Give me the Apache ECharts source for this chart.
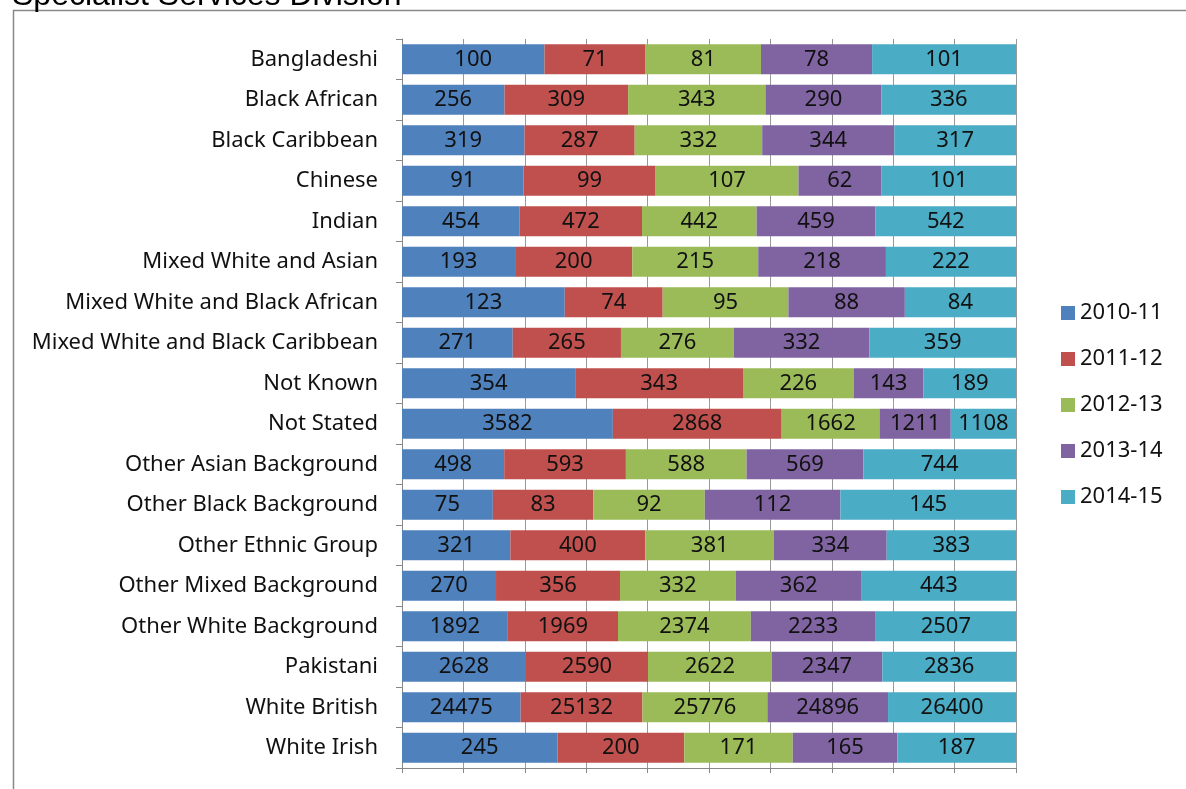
<!DOCTYPE html>
<html><head><meta charset="utf-8">
<script src="https://cdn.jsdelivr.net/npm/echarts@6/dist/echarts.min.js"></script>
<style>html,body{margin:0;padding:0;background:#fff}#c{width:1186px;height:789px}</style>
</head><body><div id="c"></div>
<script>
const categories = ["Bangladeshi","Black African","Black Caribbean","Chinese","Indian","Mixed White and Asian","Mixed White and Black African","Mixed White and Black Caribbean","Not Known","Not Stated","Other Asian Background","Other Black Background","Other Ethnic Group","Other Mixed Background","Other White Background","Pakistani","White British","White Irish"];
const seriesNames = ["2010-11","2011-12","2012-13","2013-14","2014-15"];
const y2010 = [100,256,319,91,454,193,123,271,354,3582,498,75,321,270,1892,2628,24475,245];
const y2011 = [71,309,287,99,472,200,74,265,343,2868,593,83,400,356,1969,2590,25132,200];
const y2012 = [81,343,332,107,442,215,95,276,226,1662,588,92,381,332,2374,2622,25776,171];
const y2013 = [78,290,344,62,459,218,88,332,143,1211,569,112,334,362,2233,2347,24896,165];
const y2014 = [101,336,317,101,542,222,84,359,189,1108,744,145,383,443,2507,2836,26400,187];
const raw = [y2010,y2011,y2012,y2013,y2014];
const colors = ["#4F81BD","#C0504D","#9BBB59","#8064A2","#4BACC6"];
const totals = categories.map((_,i)=>raw.reduce((s,a)=>s+a[i],0));
const FONT = "Noto Sans";
const chart = echarts.init(document.getElementById('c'));
chart.setOption({
  animation:false,
  textStyle:{fontFamily:FONT},
  graphic:[
    {type:'rect',shape:{x:13.5,y:10.5,width:1200,height:900},style:{fill:'none',stroke:'#888',lineWidth:1.5}},
    {type:'text',x:12,y:12,style:{text:'Specialist Services Division',font:'32px "Liberation Sans"',fill:'#000',verticalAlign:'bottom'}}
  ],
  legend:{orient:'vertical',left:1056,top:297,itemWidth:14,itemHeight:14,itemGap:24,icon:'rect',
    textStyle:{fontSize:22,color:'#111',fontFamily:FONT},data:seriesNames},
  grid:{left:402,right:170,top:39,bottom:21,containLabel:false},
  xAxis:{type:'value',min:0,max:100,interval:10,
    axisLabel:{show:false},
    axisLine:{show:true,lineStyle:{color:'#888'}},
    axisTick:{show:true,length:5,lineStyle:{color:'#888'}},
    splitLine:{show:true,lineStyle:{color:'#999'}}},
  yAxis:{type:'category',inverse:true,data:categories,
    axisLine:{show:true,lineStyle:{color:'#888'}},
    axisTick:{show:true,length:6,lineStyle:{color:'#888'}},
    axisLabel:{fontSize:22,color:'#111',margin:24,fontFamily:FONT}},
  series: seriesNames.map((n,k)=>({
    name:n,type:'bar',stack:'all',barCategoryGap:'26%',
    itemStyle:{color:colors[k]},
    data:raw[k].map((v,i)=>v/totals[i]*100),
    label:{show:true,position:'inside',fontSize:22,color:'#111',fontFamily:FONT,
      formatter:p=>String(raw[k][p.dataIndex])}
  }))
});
</script></body></html>
